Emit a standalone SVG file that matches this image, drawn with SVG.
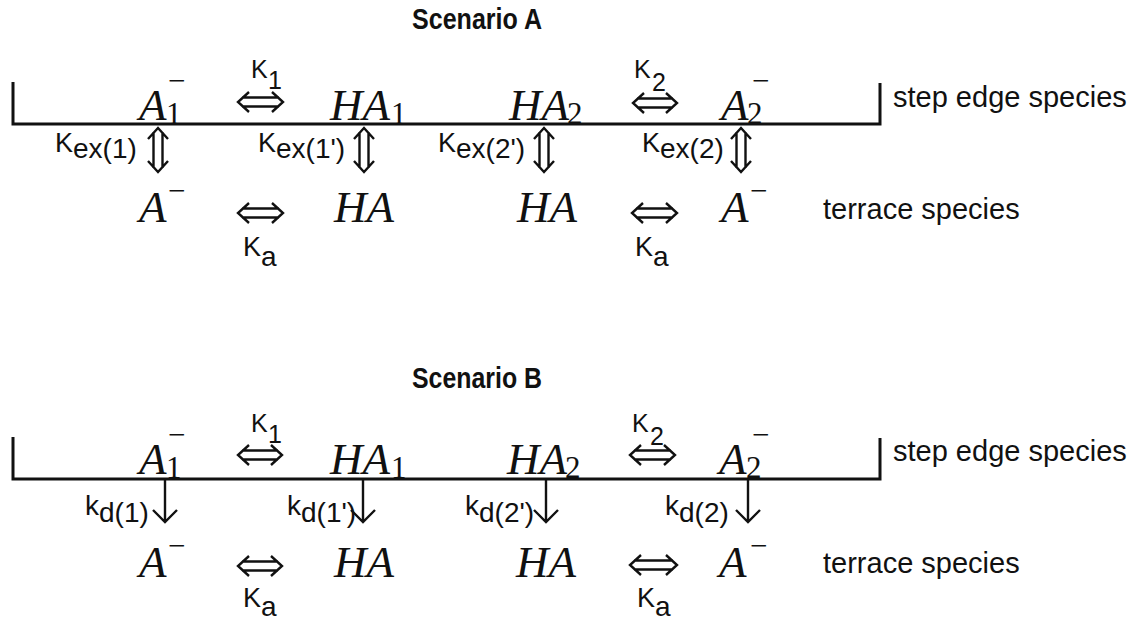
<svg xmlns="http://www.w3.org/2000/svg" width="1143" height="623" viewBox="0 0 1143 623">
<style>
  text { fill: #111; }
  .title { font-family: "Liberation Sans", Arial, sans-serif; font-weight: bold; font-size: 30px; text-anchor: middle; }
  .lbl { font-family: "Liberation Sans", Arial, sans-serif; font-size: 29px; }
  .sp { font-family: "Liberation Serif", "Times New Roman", serif; font-style: italic; font-size: 45px; }
  .sub { font-family: "Liberation Serif", "Times New Roman", serif; font-size: 31px; }
  .k { font-family: "Liberation Sans", Arial, sans-serif; font-size: 27px; }
  .ks { font-family: "Liberation Sans", Arial, sans-serif; font-size: 28px; }
  .k1 { font-family: "Liberation Sans", Arial, sans-serif; font-size: 25px; }
  .edge { fill: none; stroke: #111; stroke-width: 3; stroke-linejoin: miter; }
  .arr { fill: none; stroke: #111; stroke-width: 2.4; stroke-linejoin: miter; stroke-linecap: butt; }
</style>
<rect width="1143" height="623" fill="#fff"/>

<!-- ================= Scenario A ================= -->
<g id="titleA"><text class="title" x="477" y="29" textLength="130" lengthAdjust="spacingAndGlyphs">Scenario A</text></g>
<g id="stepA"><path class="edge" d="M13,82 V124 H880 V83"/></g>
<g id="stepLabelA"><text class="lbl" x="893" y="107">step edge species</text></g>
<g id="terraceLabelA"><text class="lbl" x="823" y="219">terrace species</text></g>

<g id="A-A1m"><text class="sp" x="139" y="120">A</text><text class="sub" x="166" y="124">1</text><text class="sub" x="168" y="91">−</text></g>
<g id="A-HA1"><text class="sp" x="330" y="120">HA</text><text class="sub" x="391" y="124">1</text></g>
<g id="A-HA2"><text class="sp" x="509" y="120">HA</text><text class="sub" x="567" y="124">2</text></g>
<g id="A-A2m"><text class="sp" x="721" y="120">A</text><text class="sub" x="747" y="124">2</text><text class="sub" x="752" y="91">−</text></g>

<g id="A-tAm1"><text class="sp" x="139" y="222">A</text><text class="sub" x="168" y="201">−</text></g>
<g id="A-tHA1"><text class="sp" x="334" y="222">HA</text></g>
<g id="A-tHA2"><text class="sp" x="517" y="222">HA</text></g>
<g id="A-tAm2"><text class="sp" x="721" y="222">A</text><text class="sub" x="750" y="201">−</text></g>

<g id="A-K1"><text class="k1" x="251" y="78">K</text><text class="k1" x="268" y="89">1</text></g>
<g id="A-K2"><text class="k1" x="634" y="78">K</text><text class="k1" x="652" y="91">2</text></g>
<g id="A-Kex1"><text class="k" x="55" y="152">K</text><text class="ks" x="73" y="158">ex(1)</text></g>
<g id="A-Kex1p"><text class="k" x="258" y="152">K</text><text class="ks" x="276" y="158">ex(1')</text></g>
<g id="A-Kex2p"><text class="k" x="438" y="152">K</text><text class="ks" x="456" y="158">ex(2')</text></g>
<g id="A-Kex2"><text class="k" x="642" y="152">K</text><text class="ks" x="660" y="158">ex(2)</text></g>
<g id="A-Ka1"><text class="k" x="243" y="256">K</text><text class="ks" x="261" y="266">a</text></g>
<g id="A-Ka2"><text class="k" x="635" y="256">K</text><text class="ks" x="653" y="266">a</text></g>

<!-- ================= Scenario B ================= -->
<g id="titleB"><text class="title" x="477" y="388" textLength="130" lengthAdjust="spacingAndGlyphs">Scenario B</text></g>
<g id="stepB"><path class="edge" d="M13,437 V479 H880 V438"/></g>
<g id="stepLabelB"><text class="lbl" x="893" y="461">step edge species</text></g>
<g id="terraceLabelB"><text class="lbl" x="823" y="573">terrace species</text></g>

<g id="B-A1m"><text class="sp" x="139" y="474">A</text><text class="sub" x="166" y="478">1</text><text class="sub" x="168" y="445">−</text></g>
<g id="B-HA1"><text class="sp" x="330" y="474">HA</text><text class="sub" x="391" y="478">1</text></g>
<g id="B-HA2"><text class="sp" x="507" y="474">HA</text><text class="sub" x="565" y="478">2</text></g>
<g id="B-A2m"><text class="sp" x="719" y="474">A</text><text class="sub" x="746" y="478">2</text><text class="sub" x="752" y="445">−</text></g>

<g id="B-tAm1"><text class="sp" x="139" y="577">A</text><text class="sub" x="168" y="556">−</text></g>
<g id="B-tHA1"><text class="sp" x="334" y="577">HA</text></g>
<g id="B-tHA2"><text class="sp" x="516" y="577">HA</text></g>
<g id="B-tAm2"><text class="sp" x="719" y="577">A</text><text class="sub" x="750" y="556">−</text></g>

<g id="B-K1"><text class="k1" x="251" y="432">K</text><text class="k1" x="268" y="443">1</text></g>
<g id="B-K2"><text class="k1" x="632" y="432">K</text><text class="k1" x="650" y="445">2</text></g>
<g id="B-kd1"><text class="ks" x="85" y="515">k</text><text class="ks" x="99" y="522">d(1)</text></g>
<g id="B-kd1p"><text class="ks" x="287" y="515">k</text><text class="ks" x="301" y="522">d(1')</text></g>
<g id="B-kd2p"><text class="ks" x="465" y="515">k</text><text class="ks" x="479" y="522">d(2')</text></g>
<g id="B-kd2"><text class="ks" x="665" y="515">k</text><text class="ks" x="679" y="522">d(2)</text></g>
<g id="B-Ka1"><text class="k" x="243" y="607">K</text><text class="ks" x="261" y="616">a</text></g>
<g id="B-Ka2"><text class="k" x="637" y="607">K</text><text class="ks" x="655" y="616">a</text></g>

<!-- ================= Connectors ================= -->
<g id="connectors">
  <!-- Scenario A horizontal double arrows -->
  <path class="arr" d="M249,92 L238,102 L249,112 M272,92 L283,102 L272,112 M242,97.5 H279 M242,106.5 H279"/>
  <path class="arr" d="M644,93 L633,103 L644,113 M666,93 L677,103 L666,113 M637,98.5 H673 M637,107.5 H673"/>
  <path class="arr" d="M249,203 L238,213 L249,223 M272,203 L283,213 L272,223 M242,208.5 H279 M242,217.5 H279"/>
  <path class="arr" d="M643,203 L632,213 L643,223 M666,203 L677,213 L666,223 M636,208.5 H673 M636,217.5 H673"/>
  <!-- Scenario A vertical double arrows -->
  <path class="arr" d="M148,139 L158,128 L168,139 M148,161 L158,172 L168,161 M153.5,132 V168 M162.5,132 V168"/>
  <path class="arr" d="M354,139 L364,128 L374,139 M354,161 L364,172 L374,161 M359.5,132 V168 M368.5,132 V168"/>
  <path class="arr" d="M534,139 L544,128 L554,139 M534,161 L544,172 L554,161 M539.5,132 V168 M548.5,132 V168"/>
  <path class="arr" d="M731,139 L741,128 L751,139 M731,161 L741,172 L751,161 M736.5,132 V168 M745.5,132 V168"/>
  <!-- Scenario B horizontal double arrows -->
  <path class="arr" d="M249,445 L238,455 L249,465 M271,445 L282,455 L271,465 M242,450.5 H278 M242,459.5 H278"/>
  <path class="arr" d="M641,445 L630,455 L641,465 M664,445 L675,455 L664,465 M634,450.5 H671 M634,459.5 H671"/>
  <path class="arr" d="M249,556 L238,566 L249,576 M271,556 L282,566 L271,576 M242,561.5 H278 M242,570.5 H278"/>
  <path class="arr" d="M641,555 L630,565 L641,575 M666,555 L677,565 L666,575 M634,560.5 H673 M634,569.5 H673"/>
  <!-- Scenario B down arrows -->
  <path class="arr" d="M165,480 V522 M153,510 L165,522 L177,510"/>
  <path class="arr" d="M363,480 V522 M351,510 L363,522 L375,510"/>
  <path class="arr" d="M546,480 V522 M534,510 L546,522 L558,510"/>
  <path class="arr" d="M748,480 V522 M736,510 L748,522 L760,510"/>
</g>
</svg>
